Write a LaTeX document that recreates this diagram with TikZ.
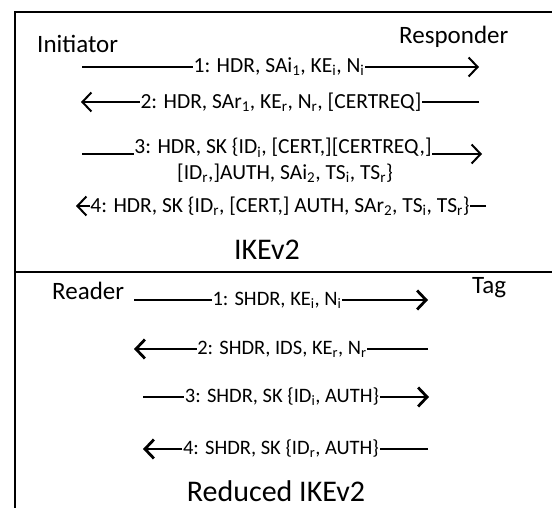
\documentclass[tikz,border=0pt]{standalone}
\usepackage{fontspec}
\setmainfont{Carlito}
\usetikzlibrary{arrows.meta}

\newcommand\ssub[1]{\textsubscript{#1}}

\begin{document}
\begin{tikzpicture}[x=1pt,y=-1pt,
  msg/.style={font=\fontsize{21.5}{25}\selectfont, inner sep=0.5pt},
  rmsg/.style={font=\fontsize{20.5}{25}\selectfont, inner sep=0.5pt},
  party/.style={font=\fontsize{25}{30}\selectfont, anchor=west, inner sep=0pt},
  title/.style={font=\fontsize{30}{36}\selectfont, inner sep=0pt},
  flow/.style={line width=2pt},
  rflow/.style={line width=2.8pt},
  tip/.style={-{Straight Barb[length=9pt,width=19pt]}}]

\useasboundingbox (0,0) rectangle (552,508);

%% frame
\draw[line width=2.6pt] (552,12) -- (15,12) -- (15,508);
\draw[line width=2.6pt] (15,272) -- (552,272);

%% IKEv2
\node[party] (init) at (37,44) {Initiator};
\node[party] (resp) at (399,37) {Responder};

\coordinate (a1l) at (82,67);  \coordinate (a1r) at (479,67);
\node[msg] (m1) at (279,67) {1: HDR, SAi\ssub{1}, KE\ssub{i}, N\ssub{i}};
\draw[flow] (a1l) -- (m1);
\draw[flow,tip] (m1) -- (a1r);

\coordinate (a2l) at (81,102); \coordinate (a2r) at (479,102);
\node[msg] (m2) at (281,102) {2: HDR, SAr\ssub{1}, KE\ssub{r}, N\ssub{r}, [CERTREQ]};
\draw[flow] (a2r) -- (m2);
\draw[flow,tip] (m2) -- (a2l);

\coordinate (a3l) at (82,154); \coordinate (a3r) at (482,154);
\node[msg,anchor=base] (m3) at (283,154) {3: HDR, SK \{ID\ssub{i}, [CERT,][CERTREQ,]};
\node[msg,anchor=base] (m3b) at (285,179) {[ID\ssub{r},]AUTH, SAi\ssub{2}, TS\ssub{i}, TS\ssub{r}\}};
\draw[flow] (a3l) -- (m3.base west);
\draw[flow,tip] (m3.base east) -- (a3r);

\coordinate (a4l) at (76,206); \coordinate (a4r) at (486,206);
\node[msg] (m4) at (280,206) {4: HDR, SK \{ID\ssub{r}, [CERT,] AUTH, SAr\ssub{2}, TS\ssub{i}, TS\ssub{r}\}};
\draw[flow] (a4r) -- (m4);
\draw[flow,tip] (m4) -- (a4l);

\node[title] (ike) at (267,250) {IKEv2};

%% Reduced IKEv2
\node[party] (rdr) at (52,291) {Reader};
\node[party] (tag) at (472,288) {Tag};

\coordinate (r1l) at (134,300); \coordinate (r1r) at (428,300);
\node[rmsg] (n1) at (277,300) {1: SHDR, KE\ssub{i}, N\ssub{i}};
\draw[rflow] (r1l) -- (n1);
\draw[rflow,tip] (n1) -- (r1r);

\coordinate (r2l) at (134,349); \coordinate (r2r) at (428,349);
\node[rmsg] (n2) at (282,349) {2: SHDR, IDS, KE\ssub{r}, N\ssub{r}};
\draw[rflow] (r2r) -- (n2);
\draw[rflow,tip] (n2) -- (r2l);

\coordinate (r3l) at (143,397); \coordinate (r3r) at (429,397);
\node[rmsg] (n3) at (282,397) {3: SHDR, SK \{ID\ssub{i}, AUTH\}};
\draw[rflow] (r3l) -- (n3);
\draw[rflow,tip] (n3) -- (r3r);

\coordinate (r4l) at (143,449); \coordinate (r4r) at (428,449);
\node[rmsg] (n4) at (281,449) {4: SHDR, SK \{ID\ssub{r}, AUTH\}};
\draw[rflow] (r4r) -- (n4);
\draw[rflow,tip] (n4) -- (r4l);

\node[title,anchor=base] (rike) at (276,501) {Reduced IKEv2};

\end{tikzpicture}
\end{document}
